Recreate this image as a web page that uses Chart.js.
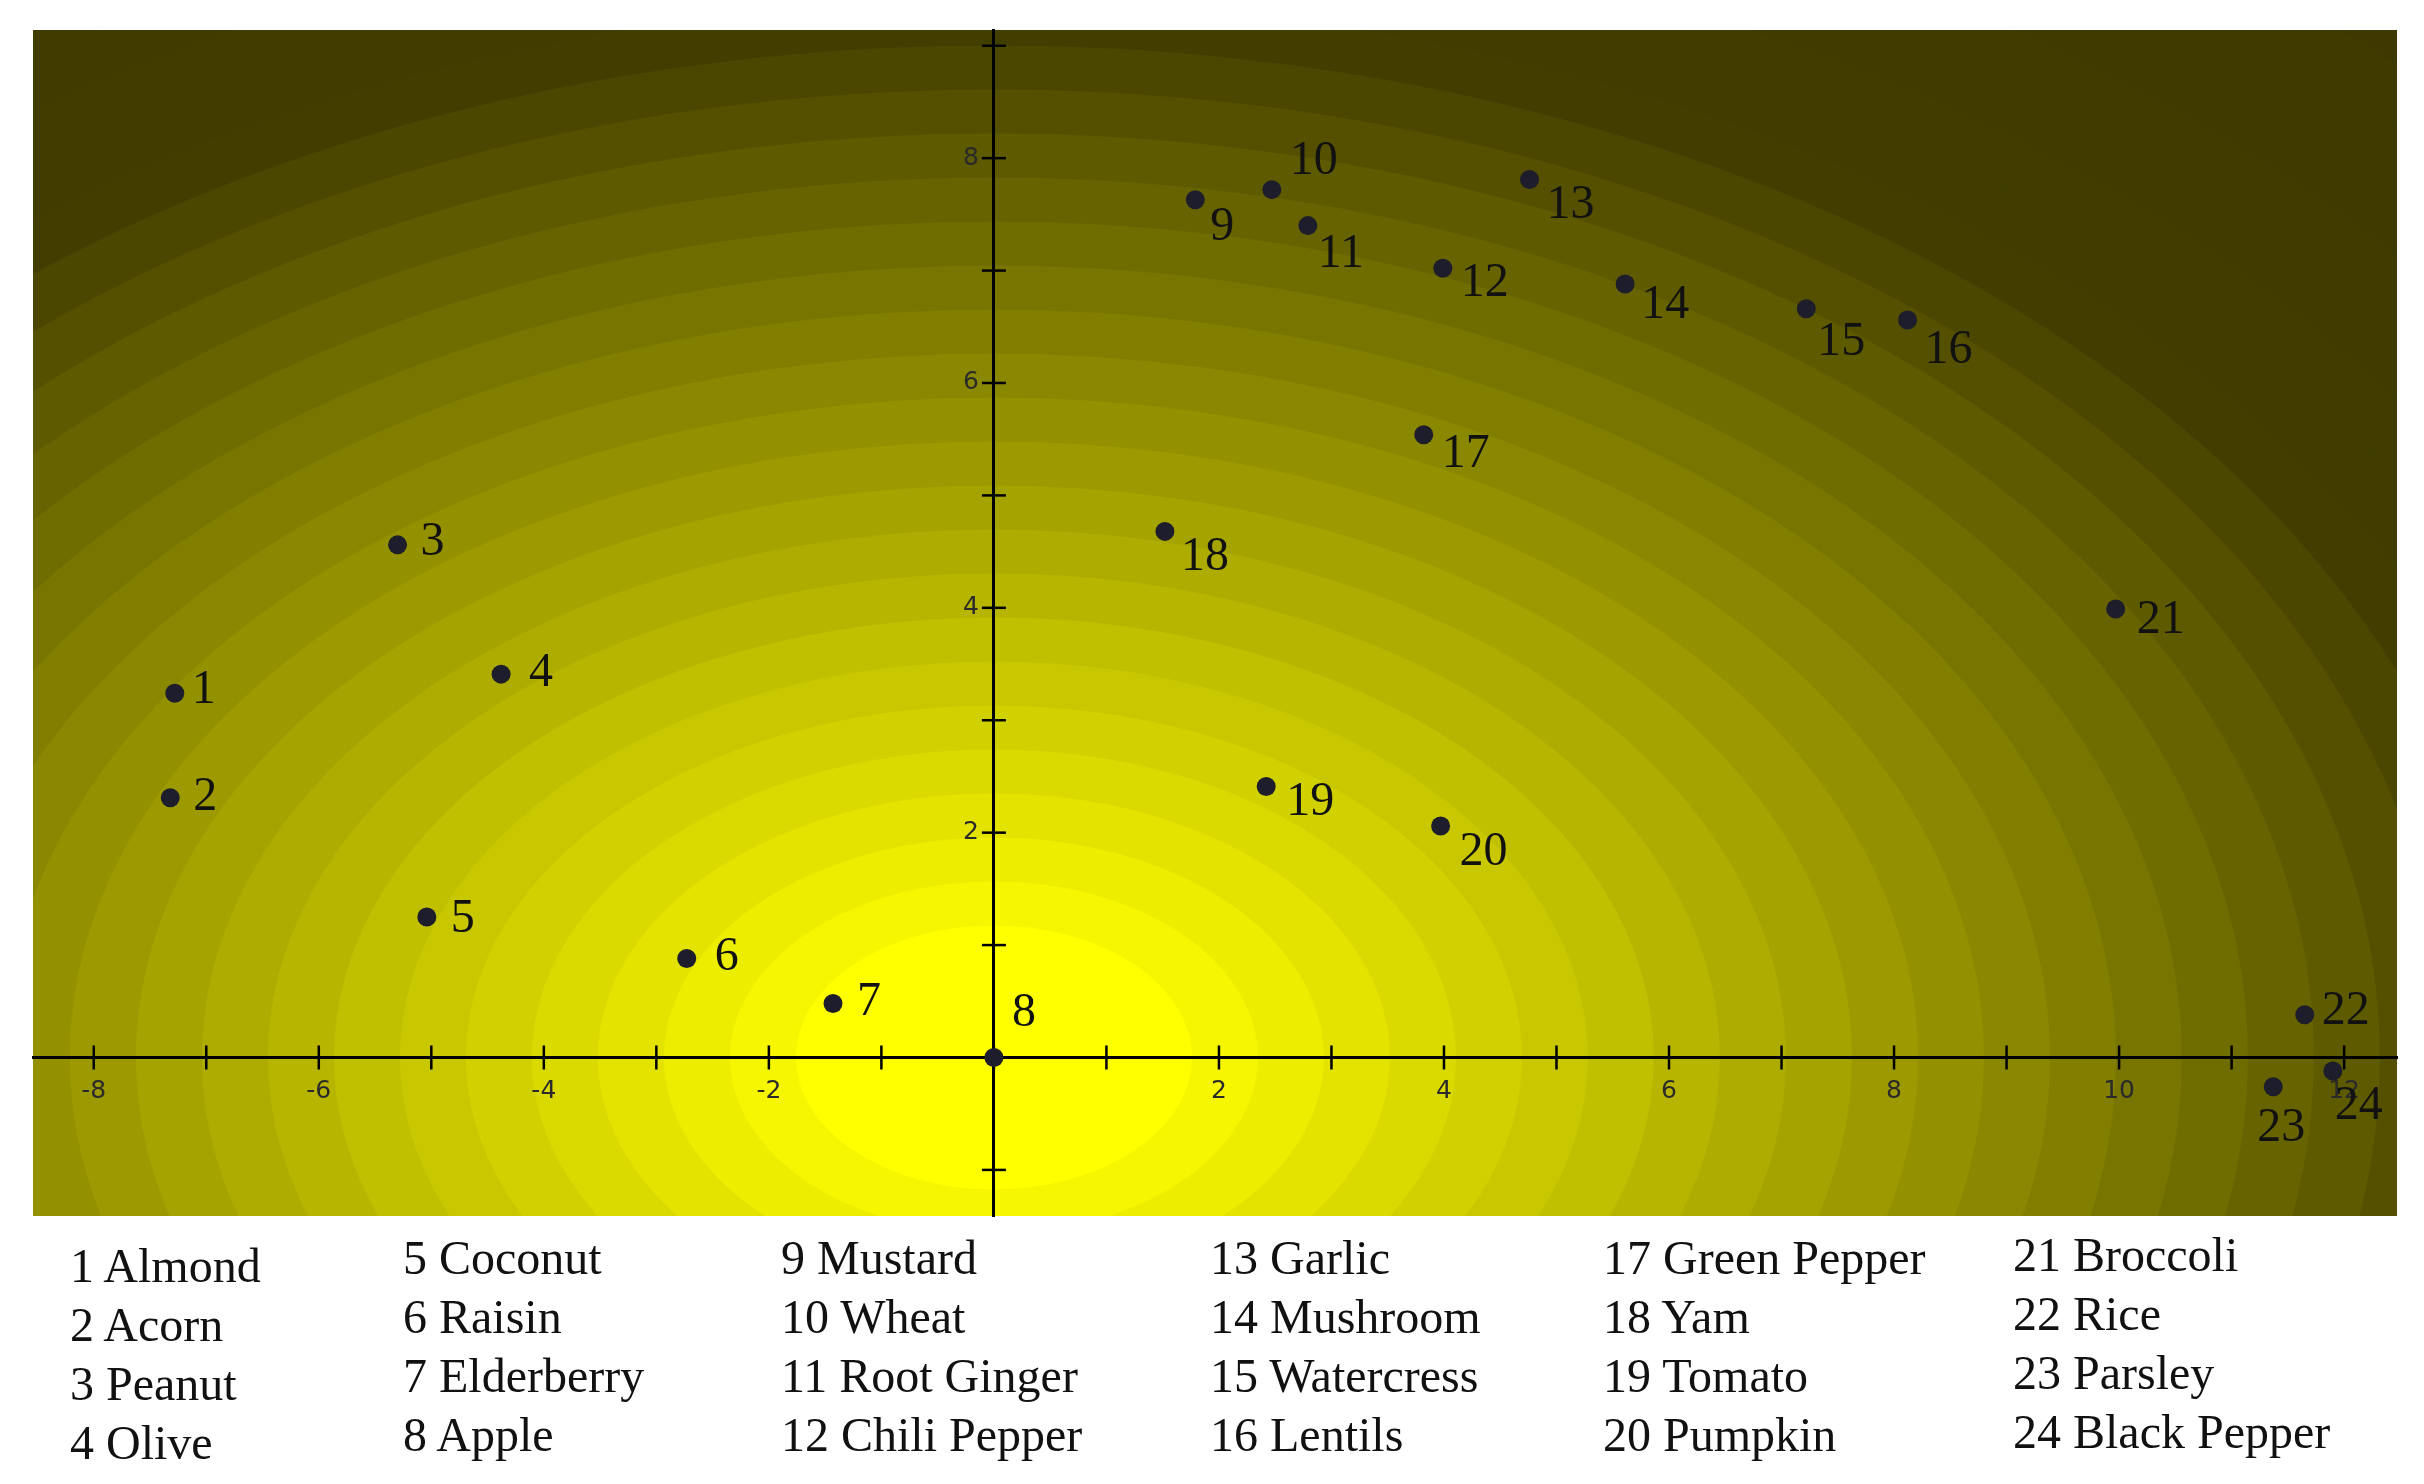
<!DOCTYPE html>
<html>
<head>
<meta charset="utf-8">
<script src="https://cdn.jsdelivr.net/npm/chart.js@4.4.1/dist/chart.umd.min.js"></script>
<style>
  html, body { margin: 0; padding: 0; background: #fff; }
  #wrap { position: relative; width: 2424px; height: 1484px; overflow: hidden; }
  #chart { position: absolute; left: 0; top: 0; }
  .col {
    position: absolute;
    font-family: 'Liberation Serif', 'Times New Roman', serif;
    font-size: 48px;
    line-height: 59px;
    color: #111;
    white-space: nowrap;
  }
</style>
</head>
<body>
<div id="wrap">
  <canvas id="chart" width="2424" height="1484"></canvas>
  <div id="legend"></div>
</div>
<script>
// Foods placed on the map, numbered in this order
const foodNames = [
  'Almond', 'Acorn', 'Peanut', 'Olive',
  'Coconut', 'Raisin', 'Elderberry', 'Apple',
  'Mustard', 'Wheat', 'Root Ginger', 'Chili Pepper',
  'Garlic', 'Mushroom', 'Watercress', 'Lentils',
  'Green Pepper', 'Yam', 'Tomato', 'Pumpkin',
  'Broccoli', 'Rice', 'Parsley', 'Black Pepper'
];
const xValues = [
  -7.28, -7.32, -5.30, -4.38,
  -5.04, -2.73, -1.43, 0.00,
  1.79, 2.47, 2.79, 3.99,
  4.76, 5.61, 7.22, 8.12,
  3.82, 1.52, 2.42, 3.97,
  9.97, 11.65, 11.37, 11.90
];
const yValues = [
  3.24, 2.31, 4.56, 3.41,
  1.25, 0.88, 0.48, 0.00,
  7.63, 7.72, 7.40, 7.02,
  7.81, 6.88, 6.66, 6.56,
  5.54, 4.68, 2.41, 2.06,
  3.99, 0.38, -0.26, -0.12
];
const xRange = [-8.54, 12.47];
const yRange = [-1.41, 9.14];

// where each number sits relative to its dot (px)
const labelNudge = [
  [29, -3], [35, 0], [35, -2], [40, -1],
  [36, 2], [40, -1], [36, -1], [30, -44],
  [27, 28], [42, -28], [33, 29], [42, 15],
  [41, 26], [40, 21], [35, 34], [41, 30],
  [42, 20], [40, 26], [44, 16], [43, 26],
  [45, 11], [41, -3], [8, 42], [26, 35]
];

// legend columns (4 names each)
const legendLeft = [70, 403, 781, 1210, 1603, 2013];
const legendTop = [1236, 1228, 1228, 1228, 1228, 1225];

const tickFont = { family: "'DejaVu Sans', sans-serif", size: 25 };
const tickColor = '#2a2a2a';

// stepped elliptical glow centred on the origin
const BAND_STEP = 66;
const BAND_COUNT = 34;
const CORE_BANDS = 2;     // bands that stay pure yellow
const FADE_BANDS = 21;    // bands from yellow down to dark olive
const ASPECT = 1.5;

function bandColor(k) {
  const s = Math.max(0, k - CORE_BANDS);
  let r, g;
  if (s <= FADE_BANDS) {
    const t = s / FADE_BANDS;
    r = 255 - (255 - 66) * t;
    g = 255 - (255 - 62) * t;
  } else {
    // slow tail so the far corner keeps faint rings
    const t = Math.min(1, (s - FADE_BANDS) / 10);
    r = 66 - 6 * t;
    g = 62 - 6 * t;
  }
  return `rgb(${Math.round(r)},${Math.round(g)},0)`;
}

const glowPlugin = {
  id: 'glow',
  beforeDraw(chart) {
    const { ctx, chartArea: a, scales: { x, y } } = chart;
    const cx = x.getPixelForValue(0);
    const cy = y.getPixelForValue(0);
    ctx.save();
    ctx.beginPath();
    ctx.rect(a.left, a.top, a.right - a.left, a.bottom - a.top);
    ctx.clip();
    ctx.fillStyle = bandColor(BAND_COUNT);
    ctx.fillRect(a.left, a.top, a.right - a.left, a.bottom - a.top);
    for (let k = BAND_COUNT - 1; k >= 0; k--) {
      const rx = (k + 1) * BAND_STEP;
      ctx.beginPath();
      ctx.ellipse(cx, cy, rx, rx / ASPECT, 0, 0, Math.PI * 2);
      ctx.fillStyle = bandColor(k);
      ctx.fill();
    }
    ctx.restore();
  }
};

// crossing tick marks on both axes + labels of the vertical axis
const crossTicksPlugin = {
  id: 'crossTicks',
  beforeDatasetsDraw(chart) {
    const { ctx, scales: { x, y } } = chart;
    const x0 = x.getPixelForValue(0);
    const y0 = y.getPixelForValue(0);
    ctx.save();
    ctx.strokeStyle = '#000';
    ctx.lineWidth = 2.5;
    x.ticks.forEach(t => {
      if (!Number.isInteger(t.value)) return;
      const px = x.getPixelForValue(t.value);
      ctx.beginPath();
      ctx.moveTo(px, y0 - 12);
      ctx.lineTo(px, y0 + 12);
      ctx.stroke();
    });
    y.ticks.forEach(t => {
      if (!Number.isInteger(t.value)) return;
      const py = y.getPixelForValue(t.value);
      ctx.beginPath();
      ctx.moveTo(x0 - 12, py);
      ctx.lineTo(x0 + 12, py);
      ctx.stroke();
    });
    ctx.fillStyle = tickColor;
    ctx.font = `${tickFont.size}px ${tickFont.family}`;
    ctx.textAlign = 'right';
    ctx.textBaseline = 'middle';
    y.ticks.forEach(t => {
      if (t.value === 0 || t.value % 2 !== 0) return;
      ctx.fillText(String(t.value), x0 - 15, y.getPixelForValue(t.value));
    });
    ctx.restore();
  }
};

const pointNumbersPlugin = {
  id: 'pointNumbers',
  afterDatasetsDraw(chart) {
    const { ctx } = chart;
    const meta = chart.getDatasetMeta(0);
    ctx.save();
    ctx.fillStyle = '#111';
    ctx.font = "48px 'Liberation Serif', 'Times New Roman', serif";
    ctx.textAlign = 'center';
    ctx.textBaseline = 'middle';
    meta.data.forEach((pt, i) => {
      const [dx, dy] = labelNudge[i];
      ctx.fillText(String(i + 1), pt.x + dx, pt.y + dy);
    });
    ctx.restore();
  }
};

const evenLabel = v => (v !== 0 && v % 2 === 0) ? String(v) : '';

new Chart(document.getElementById('chart'), {
  type: 'scatter',
  data: {
    datasets: [{
      data: xValues.map((v, i) => ({ x: v, y: yValues[i] })),
      pointRadius: 9.5,
      pointHoverRadius: 9.5,
      pointBackgroundColor: '#1d1d2b',
      pointBorderWidth: 0,
      showLine: false
    }]
  },
  options: {
    responsive: false,
    animation: false,
    devicePixelRatio: 1,
    layout: { padding: { left: 33, top: 30, right: 27, bottom: 268 } },
    plugins: {
      legend: { display: false },
      tooltip: { enabled: false }
    },
    scales: {
      x: {
        type: 'linear',
        min: xRange[0],
        max: xRange[1],
        position: { y: 0 },
        afterFit: s => { s.height = 0; },
        grid: { drawOnChartArea: false, drawTicks: false },
        border: { color: '#000', width: 3 },
        ticks: {
          stepSize: 1,
          autoSkip: false,
          includeBounds: false,
          maxRotation: 0,
          padding: 19,
          font: tickFont,
          color: tickColor,
          callback: evenLabel
        }
      },
      y: {
        type: 'linear',
        min: yRange[0],
        max: yRange[1],
        position: { x: 0 },
        afterFit: s => { s.width = 0; },
        grid: { drawOnChartArea: false, drawTicks: false },
        border: { color: '#000', width: 3 },
        ticks: {
          stepSize: 1,
          autoSkip: false,
          includeBounds: false,
          display: false
        }
      }
    }
  },
  plugins: [glowPlugin, crossTicksPlugin, pointNumbersPlugin]
});

// legend: six columns of numbered names
const legend = document.getElementById('legend');
legendLeft.forEach((left, c) => {
  const col = document.createElement('div');
  col.className = 'col';
  col.style.left = left + 'px';
  col.style.top = legendTop[c] + 'px';
  col.innerHTML = foodNames.slice(c * 4, c * 4 + 4)
    .map((n, j) => `<div>${c * 4 + j + 1} ${n}</div>`).join('');
  legend.appendChild(col);
});
</script>
</body>
</html>
